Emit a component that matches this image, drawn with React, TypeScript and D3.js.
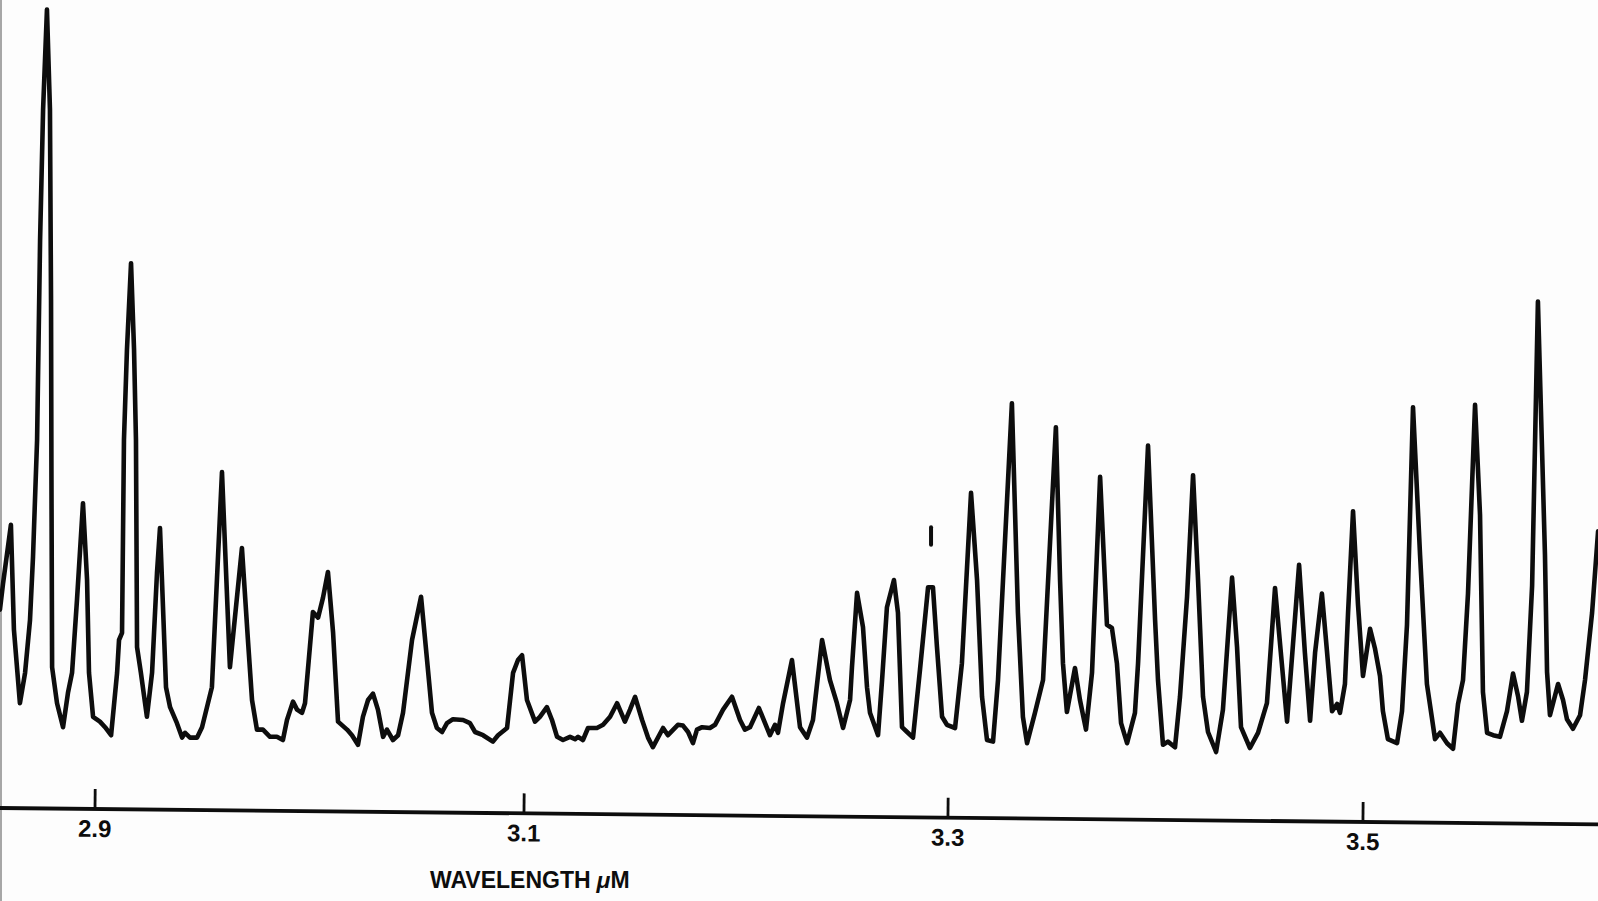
import React from 'react';
import * as d3 from 'd3';

const WIDTH = 1598;
const HEIGHT = 901;

// Spectrometer trace: wavelength in µm and relative signal (0–100)
const wavelength = [
  2.8557, 2.8571, 2.8608, 2.8622, 2.8650, 2.8674, 2.8697, 2.8711, 2.8730, 2.8744,
  2.8758, 2.8776, 2.8790, 2.8795, 2.8797, 2.8800, 2.8823, 2.8851, 2.8874, 2.8893,
  2.8916, 2.8944, 2.8963, 2.8972, 2.8991, 2.9023, 2.9047, 2.9075, 2.9103, 2.9112,
  2.9126, 2.9135, 2.9149, 2.9168, 2.9182, 2.9191, 2.9196, 2.9214, 2.9242, 2.9266,
  2.9289, 2.9303, 2.9317, 2.9331, 2.9350, 2.9382, 2.9406, 2.9420, 2.9443, 2.9476,
  2.9499, 2.9522, 2.9545, 2.9592, 2.9629, 2.9685, 2.9713, 2.9732, 2.9755, 2.9783,
  2.9816, 2.9848, 2.9876, 2.9895, 2.9923, 2.9942, 2.9965, 2.9979, 3.0016, 3.0040,
  3.0063, 3.0086, 3.0110, 3.0133, 3.0175, 3.0198, 3.0226, 3.0249, 3.0273, 3.0296,
  3.0319, 3.0343, 3.0361, 3.0389, 3.0413, 3.0436, 3.0478, 3.0520, 3.0548, 3.0571,
  3.0594, 3.0618, 3.0641, 3.0669, 3.0716, 3.0748, 3.0772, 3.0809, 3.0855, 3.0879,
  3.0921, 3.0949, 3.0972, 3.0991, 3.1014, 3.1052, 3.1075, 3.1108, 3.1132, 3.1156,
  3.1184, 3.1217, 3.1241, 3.1255, 3.1278, 3.1302, 3.1344, 3.1373, 3.1406, 3.1439,
  3.1476, 3.1500, 3.1524, 3.1557, 3.1585, 3.1608, 3.1656, 3.1679, 3.1726, 3.1750,
  3.1774, 3.1797, 3.1816, 3.1840, 3.1877, 3.1901, 3.1939, 3.1981, 3.2019, 3.2042,
  3.2066, 3.2108, 3.2137, 3.2160, 3.2184, 3.2198, 3.2222, 3.2264, 3.2302, 3.2335,
  3.2363, 3.2406, 3.2443, 3.2476, 3.2505, 3.2538, 3.2547, 3.2571, 3.2599, 3.2618,
  3.2632, 3.2670, 3.2689, 3.2712, 3.2745, 3.2764, 3.2783, 3.2807, 3.2835, 3.2868,
  3.2906, 3.2929, 3.2948, 3.2972, 3.2995, 3.3034, 3.3067, 3.3111, 3.3140, 3.3164,
  3.3188, 3.3217, 3.3241, 3.3308, 3.3337, 3.3361, 3.3381, 3.3419, 3.3458, 3.3520,
  3.3540, 3.3554, 3.3573, 3.3612, 3.3636, 3.3665, 3.3694, 3.3733, 3.3766, 3.3790,
  3.3814, 3.3834, 3.3863, 3.3901, 3.3916, 3.3964, 3.3998, 3.4012, 3.4036, 3.4060,
  3.4094, 3.4118, 3.4152, 3.4181, 3.4205, 3.4229, 3.4253, 3.4292, 3.4325, 3.4369,
  3.4393, 3.4412, 3.4455, 3.4494, 3.4537, 3.4576, 3.4634, 3.4692, 3.4720, 3.4745,
  3.4769, 3.4802, 3.4827, 3.4851, 3.4875, 3.4889, 3.4913, 3.4928, 3.4952, 3.4976,
  3.5000, 3.5034, 3.5058, 3.5082, 3.5096, 3.5120, 3.5164, 3.5188, 3.5212, 3.5241,
  3.5275, 3.5308, 3.5333, 3.5347, 3.5371, 3.5405, 3.5434, 3.5458, 3.5482, 3.5506,
  3.5540, 3.5564, 3.5578, 3.5598, 3.5627, 3.5660, 3.5694, 3.5723, 3.5747, 3.5766,
  3.5790, 3.5815, 3.5843, 3.5877, 3.5887, 3.5901, 3.5940, 3.5964, 3.5983, 3.6012,
  3.6046, 3.6070, 3.6104, 3.6133,
];

const signal = [
  23.8, 27.0, 34.4, 21.3, 12.1, 15.9, 22.5, 30.4, 45.0, 70.0,
  86.3, 98.8, 86.3, 62.5, 40.0, 16.6, 12.1, 9.1, 13.4, 15.9,
  25.0, 37.1, 27.5, 15.9, 10.4, 9.8, 9.1, 8.1, 15.9, 20.0,
  20.9, 45.0, 56.3, 67.1, 56.3, 45.0, 19.1, 15.9, 10.4, 15.9,
  28.4, 34.0, 24.1, 14.1, 11.6, 9.6, 7.8, 8.4, 7.8, 7.8,
  9.1, 11.6, 14.1, 41.0, 16.6, 31.5, 20.0, 12.5, 8.8, 8.8,
  7.9, 7.9, 7.5, 10.0, 12.3, 11.3, 10.9, 12.1, 23.5, 22.8,
  25.3, 28.5, 20.9, 9.8, 8.8, 8.1, 6.9, 10.4, 12.5, 13.3,
  11.3, 7.9, 8.8, 7.5, 8.1, 10.9, 20.0, 25.4, 17.5, 10.9,
  9.0, 8.5, 9.6, 10.1, 10.0, 9.6, 8.5, 8.1, 7.3, 8.1,
  9.0, 15.9, 17.5, 18.1, 12.5, 9.8, 10.4, 11.6, 10.0, 7.9,
  7.5, 7.9, 7.6, 7.9, 7.5, 9.0, 9.0, 9.4, 10.4, 12.1,
  9.8, 11.3, 12.9, 10.0, 7.8, 6.6, 9.0, 8.1, 9.4, 9.3,
  8.5, 7.1, 8.8, 9.1, 9.0, 9.4, 11.3, 12.9, 10.0, 8.8,
  9.1, 11.5, 9.6, 8.1, 9.4, 8.4, 12.1, 17.5, 9.1, 7.8,
  10.0, 20.0, 15.0, 12.1, 9.0, 12.5, 16.6, 25.9, 21.6, 14.1,
  10.9, 8.1, 15.0, 24.1, 27.5, 23.4, 9.1, 8.5, 7.8, 16.3,
  26.6, 26.6, 19.1, 10.4, 9.4, 9.0, 17.1, 38.4, 27.5, 12.9,
  7.5, 7.3, 15.0, 49.6, 23.4, 10.4, 7.1, 10.9, 15.0, 46.6,
  27.5, 17.1, 11.0, 16.5, 12.5, 8.8, 15.9, 40.4, 21.9, 21.5,
  17.1, 9.6, 7.1, 10.9, 17.1, 44.3, 22.5, 15.0, 6.9, 7.3,
  6.6, 12.9, 25.4, 40.6, 27.5, 12.9, 8.5, 6.0, 11.3, 27.8,
  19.1, 9.1, 6.5, 8.4, 12.1, 26.5, 9.8, 29.4, 18.4, 9.9,
  18.4, 25.8, 18.4, 11.1, 12.0, 10.9, 14.5, 23.4, 36.1, 24.4,
  15.5, 21.4, 18.9, 15.5, 11.1, 7.6, 7.1, 11.1, 21.9, 49.1,
  30.6, 14.5, 10.1, 7.6, 8.4, 7.1, 6.4, 12.0, 15.0, 25.8,
  49.4, 35.6, 13.5, 8.4, 8.1, 7.9, 11.1, 15.8, 13.0, 9.9,
  13.5, 26.8, 62.3, 30.6, 16.0, 10.6, 14.5, 12.5, 10.1, 8.9,
  10.6, 15.0, 23.4, 33.6,
];

// Short detached pen stroke above the 3.29 µm line
const penMarkWavelength = [3.292, 3.292];
const penMarkSignal = [34.1, 31.9];

const tickValues = [2.9, 3.1, 3.3, 3.5];
const tickLabels = ['2.9', '3.1', '3.3', '3.5'];
const axisTitle = 'WAVELENGTH';
const axisUnit = 'μM';

const FONT = '"Liberation Sans", Arial, Helvetica, sans-serif';

export default function App() {
  // The chart drive is slightly non-uniform, so the wavelength scale is piecewise linear.
  const x = d3.scaleLinear().domain(tickValues).range([95, 524, 948, 1363]);
  const y = d3.scaleLinear().domain([0, 100]).range([800, 0]);

  const points: [number, number][] = wavelength.map((w, i) => [w, signal[i]]);
  const pen: [number, number][] = penMarkWavelength.map((w, i) => [w, penMarkSignal[i]]);

  const line = d3
    .line<[number, number]>()
    .x((d) => x(d[0]))
    .y((d) => y(d[1]))
    .curve(d3.curveLinear);

  const axisY = 808;
  const tilt = (Math.atan2(13, 1268) * 180) / Math.PI;

  return (
    <svg
      width={WIDTH}
      height={HEIGHT}
      viewBox={`0 0 ${WIDTH} ${HEIGHT}`}
      style={{ position: 'absolute', left: 0, top: 0, display: 'block', background: '#fdfdfd' }}
    >
      <rect x={0} y={0} width={WIDTH} height={HEIGHT} fill="#fdfdfd" />
      <line x1={1} y1={0} x2={1} y2={HEIGHT} stroke="#8a8a8a" strokeWidth={1.5} />

      <path
        d={line(points) ?? ''}
        fill="none"
        stroke="#0d0d0d"
        strokeWidth={4.6}
        strokeLinejoin="round"
        strokeLinecap="round"
      />
      <path
        d={line(pen) ?? ''}
        fill="none"
        stroke="#0d0d0d"
        strokeWidth={4}
        strokeLinecap="round"
      />

      <g transform={`rotate(${tilt}, 0, ${axisY})`}>
        <line x1={0} y1={axisY} x2={WIDTH + 20} y2={axisY} stroke="#0d0d0d" strokeWidth={3.8} />
        {tickValues.map((t, i) => (
          <g key={t} transform={`translate(${x(t)}, ${axisY})`}>
            <line x1={0} y1={0} x2={0} y2={-20} stroke="#0d0d0d" strokeWidth={2.8} />
            <text
              y={28}
              textAnchor="middle"
              fontFamily={FONT}
              fontWeight="bold"
              fontSize={24}
              fill="#0d0d0d"
            >
              {tickLabels[i]}
            </text>
          </g>
        ))}
      </g>

      <text x={430} y={888} fontFamily={FONT} fontWeight="bold" fontSize={23} fill="#0d0d0d">
        {axisTitle}
        <tspan dx={6} fontStyle="italic">{axisUnit.slice(0, 1)}</tspan>
        <tspan>{axisUnit.slice(1)}</tspan>
      </text>
    </svg>
  );
}
